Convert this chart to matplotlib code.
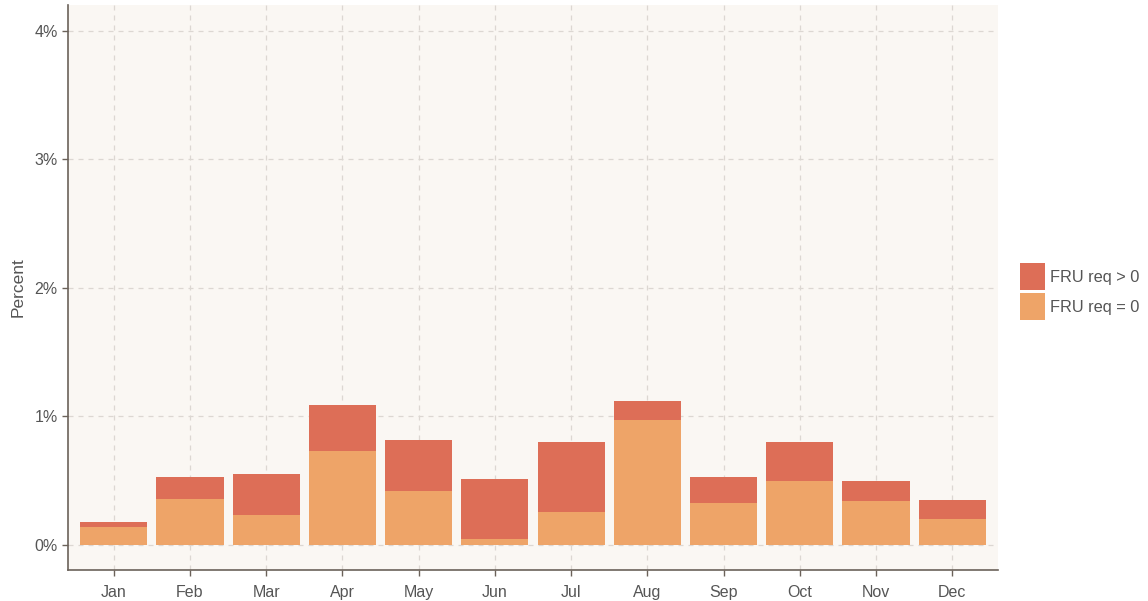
import matplotlib
matplotlib.use("Agg")
import matplotlib.pyplot as plt
import numpy as np
from matplotlib.patches import Patch

plt.rcParams['font.family'] = ['Liberation Sans', 'DejaVu Sans']

months = ["Jan", "Feb", "Mar", "Apr", "May", "Jun", "Jul", "Aug", "Sep", "Oct", "Nov", "Dec"]
fru_eq0 = [0.14, 0.36, 0.23, 0.73, 0.42, 0.05, 0.26, 0.97, 0.33, 0.50, 0.34, 0.20]
total = [0.18, 0.53, 0.55, 1.09, 0.82, 0.51, 0.80, 1.12, 0.53, 0.80, 0.50, 0.35]
fru_gt0 = [t - b for t, b in zip(total, fru_eq0)]
yticks = [0, 1, 2, 3, 4]
ytick_labels = ["0%", "1%", "2%", "3%", "4%"]

c_gt = "#dd6e57"
c_eq = "#eea468"
panel = "#faf7f3"
axcol = "#6b625a"
txt = "#555555"

fig = plt.figure(figsize=(11.48, 6.01), dpi=100)
ax = fig.add_axes([68/1148, 31/601, 930/1148, 565/601])
ax.set_facecolor(panel)

x = np.arange(1, 13)
ax.set_axisbelow(True)
ax.grid(True, color="#dcd7d2", linestyle=(0, (4, 4)), linewidth=0.9)
ax.bar(x, fru_eq0, width=0.88, color=c_eq, zorder=2)
ax.bar(x, fru_gt0, bottom=fru_eq0, width=0.88, color=c_gt, zorder=2)

ax.set_xlim(0.4, 12.6)
ax.set_ylim(-0.194, 4.2)
ax.set_xticks(x)
ax.set_xticklabels(months)
ax.set_yticks(yticks)
ax.set_yticklabels(ytick_labels)
ax.tick_params(colors=axcol, labelcolor=txt, labelsize=11.5, length=4, width=1)
ax.tick_params(axis="x", pad=7)
for s in ["top", "right"]:
    ax.spines[s].set_visible(False)
for s in ["left", "bottom"]:
    ax.spines[s].set_color(axcol)
    ax.spines[s].set_linewidth(1.2)
ax.set_ylabel("Percent", color=txt, fontsize=12.5, labelpad=6)

handles = [Patch(facecolor=c_gt, edgecolor="none", label="FRU req > 0"),
           Patch(facecolor=c_eq, edgecolor="none", label="FRU req = 0")]
fig.legend(handles=handles, loc="center left", bbox_to_anchor=(1020/1148, 1 - 291.5/601),
           frameon=False, fontsize=11.8, handlelength=1.525, handleheight=2.157,
           handletextpad=0.3, labelspacing=0.18, labelcolor=txt, borderaxespad=0,
           borderpad=0)

fig.savefig("out.png", dpi=100, facecolor="white")
